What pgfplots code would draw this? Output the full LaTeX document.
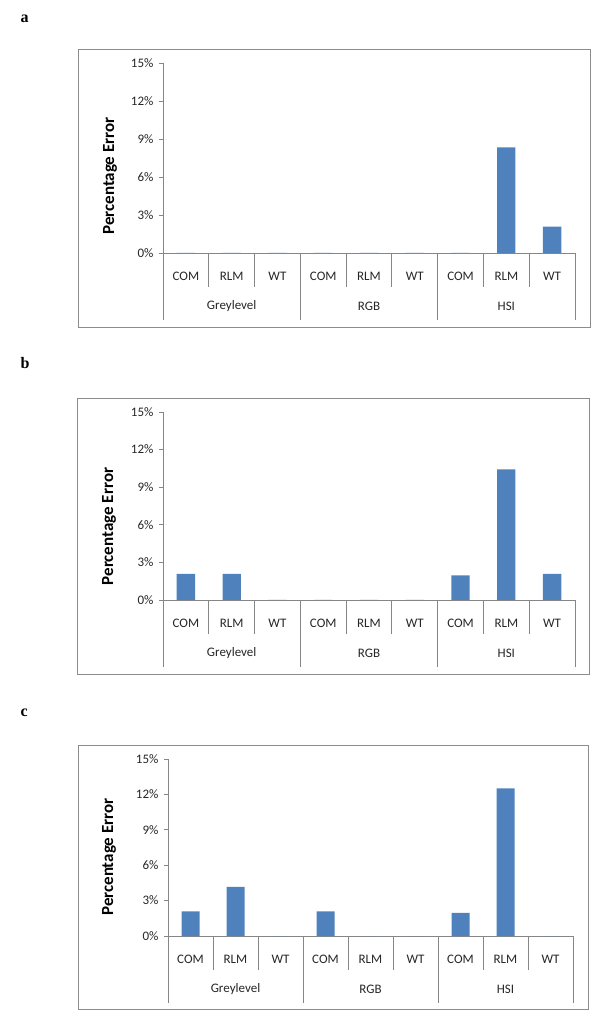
\documentclass[border=0pt]{standalone}
\usepackage{fontspec}
\setmainfont{Carlito}
\newfontfamily\labserif{Liberation Serif}
\usepackage{pgfplots}
\pgfplotsset{compat=1.18}
\definecolor{barblue}{HTML}{4F81BD}
\definecolor{axgray}{HTML}{868686}
\definecolor{boxgray}{HTML}{8C8C8C}
\definecolor{txt}{HTML}{262626}

\pgfplotsset{
  panel/.style={
    anchor=south west, scale only axis,
    xmin=0.5, xmax=9.5, ymin=0, ymax=15,
    axis x line*=bottom, axis y line*=left,
    axis line style={draw=axgray, line width=0.8pt, -},
    ytick={0,3,6,9,12,15},
    yticklabel={\pgfmathprintnumber{\tick}\%},
    /pgf/number format/assume math mode=true,
    xtick={1,2,3,4,5,6,7,8,9},
    xticklabels={COM,RLM,WT,COM,RLM,WT,COM,RLM,WT},
    x tick style={draw=none},
    y tick style={draw=axgray, line width=0.8pt},
    tick align=outside, major tick length=4pt,
    ticklabel style={font=\fontsize{13}{13}\selectfont, text=txt},
    xticklabel style={anchor=center, yshift=-19.5pt},
    yticklabel style={xshift=-2pt},
    ybar, bar width=0.4,
    clip=false,
  },
}

\newcommand{\shortline}[1]{\draw[axgray, line width=0.8pt] (axis cs:#1,0) -- ([yshift=-34pt]axis cs:#1,0);}
\newcommand{\longline}[1]{\draw[axgray, line width=0.8pt] (axis cs:#1,0) -- ([yshift=-67pt]axis cs:#1,0);}
\newcommand{\catgrid}{%
  \shortline{1.5}\shortline{2.5}\shortline{4.5}\shortline{5.5}\shortline{7.5}\shortline{8.5}%
  \longline{0.5}\longline{3.5}\longline{6.5}\longline{9.5}%
  \node[font=\fontsize{13}{13}\selectfont, text=txt] at ([yshift=-53.5pt]axis cs:2,0) {Greylevel};
  \node[font=\fontsize{13}{13}\selectfont, text=txt] at ([yshift=-53.5pt]axis cs:5,0) {RGB};
  \node[font=\fontsize{13}{13}\selectfont, text=txt] at ([yshift=-53.5pt]axis cs:8,0) {HSI};
}

\begin{document}
\begin{tikzpicture}[x=1pt,y=1pt]
\useasboundingbox (0,0) rectangle (600,1020);

% ---------- panel a ----------
\node[anchor=base west, font=\labserif\bfseries\fontsize{16}{16}\selectfont] at (17,997) {a};
\draw[boxgray, line width=0.8pt] (78,693) rectangle (590,971);
\node[rotate=90, font=\bfseries\fontsize{17}{17}\selectfont] at (110,844) {Percentage Error};
\begin{axis}[panel, at={(163pt,767pt)}, width=412pt, height=190pt]
\addplot[fill=barblue, draw=none] coordinates {(1,0) (2,0) (3,0) (4,0) (5,0) (6,0) (7,0) (8,8.33) (9,2.08)};
\catgrid
\end{axis}

% ---------- panel b ----------
\node[anchor=base west, font=\labserif\bfseries\fontsize{16}{16}\selectfont] at (17,651) {b};
\draw[boxgray, line width=0.8pt] (77.5,346) rectangle (589.5,622);
\node[rotate=90, font=\bfseries\fontsize{17}{17}\selectfont] at (109,493.5) {Percentage Error};
\begin{axis}[panel, at={(163pt,420pt)}, width=412pt, height=188pt]
\addplot[fill=barblue, draw=none] coordinates {(1,2.08) (2,2.08) (3,0) (4,0) (5,0) (6,0) (7,1.97) (8,10.42) (9,2.08)};
\catgrid
\end{axis}

% ---------- panel c ----------
\node[anchor=base west, font=\labserif\bfseries\fontsize{16}{16}\selectfont] at (17,303) {c};
\draw[boxgray, line width=0.8pt] (78,11) rectangle (588,275);
\node[rotate=90, font=\bfseries\fontsize{17}{17}\selectfont] at (109,163) {Percentage Error};
\begin{axis}[panel, at={(168pt,84pt)}, width=405pt, height=177pt]
\addplot[fill=barblue, draw=none] coordinates {(1,2.08) (2,4.17) (3,0) (4,2.08) (5,0) (6,0) (7,1.97) (8,12.5) (9,0)};
\catgrid
\end{axis}
\end{tikzpicture}
\end{document}
